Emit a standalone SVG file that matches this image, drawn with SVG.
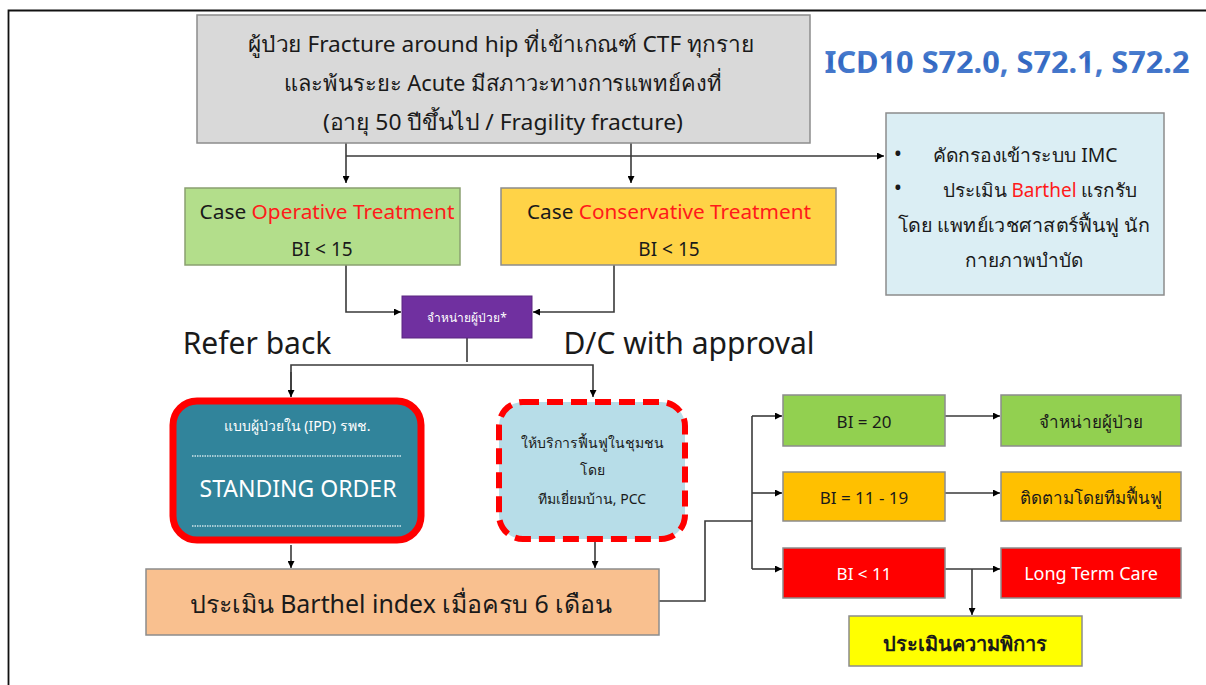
<svg xmlns="http://www.w3.org/2000/svg" width="1206" height="685" viewBox="0 0 1206 685">
<defs>
<marker id="ah" viewBox="0 0 10 10" refX="10" refY="5" markerWidth="7" markerHeight="7" markerUnits="userSpaceOnUse" orient="auto">
<path d="M0,0 L10,5 L0,10 z" fill="#000"/>
</marker>
<linearGradient id="icd" x1="0" y1="0" x2="0" y2="1">
<stop offset="0" stop-color="#6a9be0"/>
<stop offset="0.5" stop-color="#2f64c0"/>
<stop offset="1" stop-color="#5a8ad6"/>
</linearGradient>
</defs>
<style>
text{font-family:"Noto Sans","Tahoma","Open Sans",sans-serif;text-anchor:middle;fill:#1a1a1a}
.box{stroke:#8c8c8c;stroke-width:1.5}
.c{fill:none;stroke:#3a3a3a;stroke-width:1.6}
.red{fill:#ff1a1a}
.w{fill:#ffffff}
</style>
<rect width="1206" height="685" fill="#ffffff"/>
<path d="M8.5,685 V10.5 H1206" fill="none" stroke="#111" stroke-width="1.8"/>

<g id="connectors">
<path class="c" d="M346,143 V183" marker-end="url(#ah)"/>
<path class="c" d="M631,143 V183" marker-end="url(#ah)"/>
<path class="c" d="M346,156 H884" marker-end="url(#ah)"/>
<path class="c" d="M346,265 V312 H401" marker-end="url(#ah)"/>
<path class="c" d="M614,265 V312 H533" marker-end="url(#ah)"/>
<path class="c" d="M467,338 V362"/>
<path class="c" d="M291,397 V365 H593 V397" marker-end="url(#ah)"/>
<path class="c" d="M291,372 V397" marker-end="url(#ah)"/>
<path class="c" d="M291,545 V568" marker-end="url(#ah)"/>
<path class="c" d="M595,542 V568" marker-end="url(#ah)"/>
<path class="c" d="M659,601 H705 V521 H752"/>
<path class="c" d="M752,416 V569"/>
<path class="c" d="M752,416 H782" marker-end="url(#ah)"/>
<path class="c" d="M752,493 H782" marker-end="url(#ah)"/>
<path class="c" d="M752,569 H782" marker-end="url(#ah)"/>
<path class="c" d="M945,416 H1000" marker-end="url(#ah)"/>
<path class="c" d="M945,493 H1000" marker-end="url(#ah)"/>
<path class="c" d="M945,569 H1000" marker-end="url(#ah)"/>
<path class="c" d="M972,569 V615" marker-end="url(#ah)"/>
</g>

<g id="top">
<rect class="box" x="197" y="15" width="613" height="128" fill="#d9d9d9"/>
<text x="501" y="52" font-size="22" textLength="506" lengthAdjust="spacingAndGlyphs">ผู้ป่วย Fracture around hip ที่เข้าเกณฑ์ CTF ทุกราย</text>
<text x="503" y="91" font-size="22" textLength="438" lengthAdjust="spacingAndGlyphs">และพ้นระยะ Acute มีสภาวะทางการแพทย์คงที่</text>
<text x="503" y="130" font-size="22" textLength="360" lengthAdjust="spacingAndGlyphs">(อายุ 50 ปีขึ้นไป / Fragility fracture)</text>
</g>

<g id="icd10">
<text x="1007" y="73" font-size="30" font-weight="bold" style="fill:url(#icd)" textLength="365" lengthAdjust="spacingAndGlyphs">ICD10 S72.0, S72.1, S72.2</text>
</g>

<g id="imc">
<rect class="box" x="886" y="113" width="278" height="182" fill="#dbeef4"/>
<text x="898" y="161" font-size="22" text-anchor="start">•</text>
<text x="1025" y="162" font-size="19" textLength="185" lengthAdjust="spacingAndGlyphs">คัดกรองเข้าระบบ IMC</text>
<text x="898" y="195" font-size="22" text-anchor="start">•</text>
<text x="1040" y="197" font-size="19">ประเมิน <tspan class="red">Barthel</tspan> แรกรับ</text>
<text x="1024" y="232" font-size="19" textLength="252" lengthAdjust="spacingAndGlyphs">โดย แพทย์เวชศาสตร์ฟื้นฟู นัก</text>
<text x="1024" y="267" font-size="19">กายภาพบำบัด</text>
</g>

<g id="operative">
<rect x="185" y="188" width="275" height="77" fill="#b3de8b" stroke="#8aa070" stroke-width="1.5"/>
<text x="327" y="219" font-size="19" textLength="255" lengthAdjust="spacingAndGlyphs">Case <tspan class="red">Operative Treatment</tspan></text>
<text x="322" y="256" font-size="19">BI &lt; 15</text>
</g>

<g id="conservative">
<rect class="box" x="501" y="188" width="335" height="77" fill="#ffd347"/>
<text x="669" y="219" font-size="19" textLength="284" lengthAdjust="spacingAndGlyphs">Case <tspan class="red">Conservative Treatment</tspan></text>
<text x="669" y="256" font-size="19">BI &lt; 15</text>
</g>

<g id="discharge">
<rect x="402" y="296" width="130" height="42" fill="#7030a0" stroke="#5a2680" stroke-width="1"/>
<text x="467" y="322" font-size="12" class="w">จำหน่ายผู้ป่วย*</text>
</g>

<g id="labels">
<text x="257" y="354" font-size="30">Refer back</text>
<text x="689" y="354" font-size="30">D/C with approval</text>
</g>

<g id="standing">
<rect x="173" y="401" width="248" height="139" rx="24" fill="#31849b" stroke="#ff0000" stroke-width="7"/>
<text x="297" y="431" font-size="14" class="w">แบบผู้ป่วยใน (IPD) รพช.</text>
<line x1="192" y1="456" x2="402" y2="456" stroke="#cfe3ea" stroke-width="1.5" stroke-dasharray="1.5 1"/>
<text x="298" y="497" font-size="23" class="w">STANDING ORDER</text>
<line x1="192" y1="526" x2="402" y2="526" stroke="#cfe3ea" stroke-width="1.5" stroke-dasharray="1.5 1"/>
</g>

<g id="community">
<rect x="499" y="402" width="186" height="137" rx="24" fill="#b7dde8" stroke="#ff0000" stroke-width="6" stroke-dasharray="16 8"/>
<text x="592" y="448" font-size="14">ให้บริการฟื้นฟูในชุมชน</text>
<text x="592" y="475" font-size="14">โดย</text>
<text x="592" y="504" font-size="14">ทีมเยี่ยมบ้าน, PCC</text>
</g>

<g id="barthel6">
<rect class="box" x="146" y="569" width="513" height="66" fill="#f9c08f"/>
<text x="401" y="613" font-size="25" textLength="422" lengthAdjust="spacingAndGlyphs">ประเมิน Barthel index เมื่อครบ 6 เดือน</text>
</g>

<g id="bi20">
<rect class="box" x="783" y="395" width="162" height="51" fill="#92d050"/>
<text x="864" y="428" font-size="17">BI = 20</text>
</g>
<g id="bi1119">
<rect class="box" x="783" y="472" width="162" height="49" fill="#ffc000"/>
<text x="864" y="504" font-size="17">BI = 11 - 19</text>
</g>
<g id="bi11">
<rect class="box" x="783" y="548" width="162" height="50" fill="#ff0000"/>
<text x="864" y="580" font-size="17" class="w">BI &lt; 11</text>
</g>
<g id="dc2">
<rect class="box" x="1001" y="395" width="180" height="51" fill="#92d050"/>
<text x="1091" y="428" font-size="17">จำหน่ายผู้ป่วย</text>
</g>
<g id="follow">
<rect class="box" x="1001" y="472" width="180" height="49" fill="#ffc000"/>
<text x="1091" y="504" font-size="17">ติดตามโดยทีมฟื้นฟู</text>
</g>
<g id="ltc">
<rect class="box" x="1001" y="548" width="180" height="50" fill="#ff0000"/>
<text x="1091" y="580" font-size="18" class="w">Long Term Care</text>
</g>
<g id="disability">
<rect class="box" x="849" y="616" width="233" height="50" fill="#ffff00"/>
<text x="965" y="651" font-size="20" font-weight="bold">ประเมินความพิการ</text>
</g>
</svg>
